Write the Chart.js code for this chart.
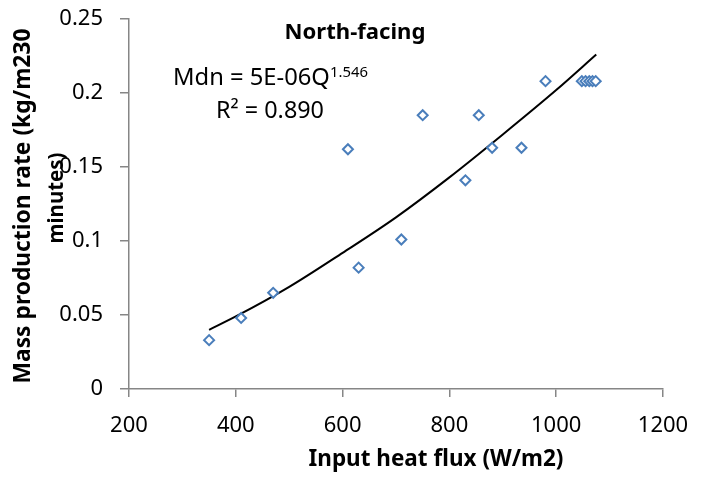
<!DOCTYPE html>
<html>
<head>
<meta charset="utf-8">
<script src="https://cdn.jsdelivr.net/npm/chart.js@4/dist/chart.umd.min.js"></script>
<style>
  body { margin: 0; background: #fff; }
  #wrap { width: 707px; height: 478px; }
</style>
</head>
<body>
<div id="wrap"><canvas id="myChart" width="707" height="478"></canvas></div>
<script>
// measured points (input heat flux W/m2, mass production rate)
const heatFlux = [350, 410, 470, 610, 630, 710, 750, 830, 855, 880, 935, 980, 1048, 1055, 1062, 1068, 1074];
const massRate = [0.033, 0.048, 0.065, 0.162, 0.082, 0.101, 0.185, 0.141, 0.185, 0.163, 0.163, 0.208, 0.208, 0.208, 0.208, 0.208, 0.208];

// power trendline
const trendX = [350, 400, 500, 600, 700, 800, 900, 1000, 1075];
const trendY = [0.040, 0.049, 0.069, 0.092, 0.116, 0.143, 0.172, 0.202, 0.226];

const yTickLabels = ['0', '0.05', '0.1', '0.15', '0.2', '0.25'];
const xTickLabels = ['200', '400', '600', '800', '1000', '1200'];

const FONT = '"Noto Sans", "Open Sans", sans-serif';

// font size so the text spans a given width
const fitSize = (ctx, text, weight, width) => {
    ctx.font = `${weight} 100px ${FONT}`;
    return 100 * width / ctx.measureText(text).width;
}

const drawText = (ctx, text, weight, width, x, y, align) => {
    const size = fitSize(ctx, text, weight, width);
    ctx.font = `${weight} ${size}px ${FONT}`;
    ctx.textAlign = align || 'center';
    ctx.textBaseline = 'alphabetic';
    ctx.fillText(text, x, y);
    return size;
}

const labelsPlugin = {
    id: 'labels',
    afterDraw(chart) {
        const ctx = chart.ctx;
        ctx.save();
        ctx.fillStyle = '#000';
        // title
        drawText(ctx, 'North-facing', 'bold', 141, 355, 39);
        // equation with superscript
        drawText(ctx, 'Mdn = 5E-06Q', 'normal', 157, 173, 85, 'left');
        drawText(ctx, '1.546', 'normal', 38, 330, 77, 'left');
        drawText(ctx, 'R² = 0.890', 'normal', 108, 270, 118);
        // x axis title
        drawText(ctx, 'Input heat flux (W/m2)', 'bold', 255, 436, 466);
        // y axis title, two lines
        ctx.save();
        ctx.translate(30, 206);
        ctx.rotate(-Math.PI / 2);
        drawText(ctx, 'Mass production rate (kg/m230', 'bold', 355, 0, 0);
        ctx.restore();
        ctx.save();
        ctx.translate(63, 198);
        ctx.rotate(-Math.PI / 2);
        drawText(ctx, 'minutes)', 'bold', 91, 0, 0);
        ctx.restore();
        ctx.restore();
    }
};

const axisColor = '#868686';

const dataChart = {
    datasets: [
        {
            type: 'scatter',
            label: 'North-facing',
            data: heatFlux.map((x, i) => ({ x, y: massRate[i] })),
            pointStyle: 'rectRot',
            pointRadius: 5,
            borderWidth: 2,
            borderColor: '#4a7ebb',
            backgroundColor: '#ffffff',
            order: 1
        },
        {
            type: 'line',
            label: 'Power trend',
            data: trendX.map((x, i) => ({ x, y: trendY[i] })),
            borderColor: '#000000',
            borderWidth: 2,
            pointRadius: 0,
            cubicInterpolationMode: 'monotone',
            fill: false,
            order: 2
        }
    ]
};

const config = {
    type: 'scatter',
    data: dataChart,
    options: {
        responsive: false,
        animation: false,
        layout: { padding: { left: 0, right: 44, top: 19, bottom: 0 } },
        plugins: {
            legend: { display: false },
            tooltip: { enabled: false }
        },
        scales: {
            x: {
                type: 'linear',
                min: 200,
                max: 1200,
                afterBuildTicks: (scale) => {
                    scale.ticks = xTickLabels.map((v) => ({ value: Number(v) }));
                },
                ticks: {
                    callback: (v, i) => xTickLabels[i],
                    font: { family: FONT, size: 22 },
                    color: '#000',
                    padding: 16,
                    maxRotation: 0
                },
                grid: { drawOnChartArea: false, drawTicks: true, tickLength: 8, color: axisColor, lineWidth: 1.5 },
                border: { color: axisColor, width: 1.5 },
                afterFit: (scale) => { scale.height = 89; }
            },
            y: {
                type: 'linear',
                min: 0,
                max: 0.25,
                afterBuildTicks: (scale) => {
                    scale.ticks = yTickLabels.map((v) => ({ value: Number(v) }));
                },
                ticks: {
                    callback: (v, i) => yTickLabels[i],
                    font: { family: FONT, size: 22 },
                    color: '#000',
                    padding: 17
                },
                grid: { drawOnChartArea: false, drawTicks: true, tickLength: 9, color: axisColor, lineWidth: 1.5 },
                border: { color: axisColor, width: 1.5 },
                afterFit: (scale) => {
                    scale.width = 129;
                    scale.paddingTop = 12;
                    scale.paddingBottom = 12;
                }
            }
        }
    },
    plugins: [labelsPlugin]
};

const myChart = new Chart(document.getElementById('myChart'), config);
</script>
</body>
</html>
